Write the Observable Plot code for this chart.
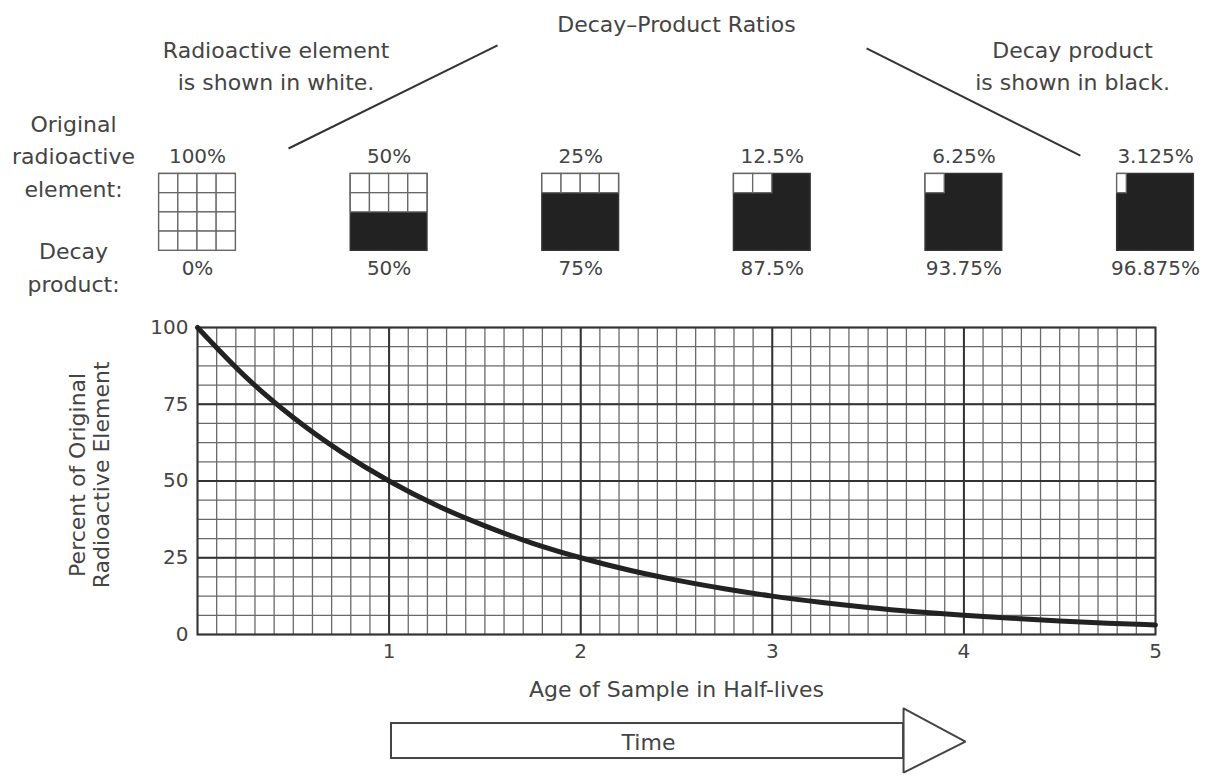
<!DOCTYPE html>
<html>
<head>
<meta charset="utf-8">
<script src="https://cdn.jsdelivr.net/npm/d3@7"></script>
<script src="https://cdn.jsdelivr.net/npm/@observablehq/plot@0.6"></script>
<style>
  html, body { margin: 0; padding: 0; background: #fff; }
  #chart svg { display: block; }
</style>
</head>
<body>
<div id="chart"></div>
<script>
// ---- data ----
const halfLives = [0, 1, 2, 3, 4, 5];
const remainingPct = [100, 50, 25, 12.5, 6.25, 3.125];
const productPct = [0, 50, 75, 87.5, 93.75, 96.875];
const remainingLabels = ["100%", "50%", "25%", "12.5%", "6.25%", "3.125%"];
const productLabels = ["0%", "50%", "75%", "87.5%", "93.75%", "96.875%"];

const curveAge = [0, 0.25, 0.5, 0.75, 1, 1.25, 1.5, 1.75, 2, 2.25, 2.5, 2.75, 3, 3.25, 3.5, 3.75, 4, 4.25, 4.5, 4.75, 5];
const curvePct = [100, 84, 70.7, 59.5, 50, 42, 35.4, 29.7, 25, 21, 17.7, 14.9, 12.5, 10.5, 8.8, 7.4, 6.25, 5.3, 4.4, 3.7, 3.1];

const xTicks = [1, 2, 3, 4, 5];
const yTicks = [0, 25, 50, 75, 100];

const titleText = "Decay\u2013Product Ratios";
const whiteNote = "Radioactive element\nis shown in white.";
const blackNote = "Decay product\nis shown in black.";
const rowLabelTop = "Original\nradioactive\nelement:";
const rowLabelBottom = "Decay\nproduct:";
const xLabel = "Age of Sample in Half-lives";
const yLabel = "Percent of Original\nRadioactive Element";
const arrowLabel = "Time";

// ---- derived tables ----
const curve = curveAge.map((a, i) => ({age: a, pct: curvePct[i]}));

// square glyphs: 4x4 cells, white cells = remaining fraction, filled row by row from top-left
const SQ_HALF = 0.2, CELL_W = 0.1, CELL_H = 6.25, SQ_TOP = 150;
const squares = halfLives.map((h, i) => ({h, rem: remainingPct[i], prod: productPct[i]}));
const whiteCells = [];
squares.forEach(s => {
  const n = s.rem / 100 * 16;
  for (let k = 0; k < 16; k++) {
    const frac = Math.max(0, Math.min(1, n - k));
    if (frac <= 0) continue;
    const row = Math.floor(k / 4), col = k % 4;
    const x1 = s.h - SQ_HALF + col * CELL_W;
    whiteCells.push({x1, x2: x1 + CELL_W * frac, y2: SQ_TOP - row * CELL_H, y1: SQ_TOP - (row + 1) * CELL_H});
  }
});

const minorX = d3.range(0, 51).map(i => i / 10);
const minorY = d3.range(0, 17).map(i => i * 6.25);

const ink = "#444";
const font = 22;

const chart = Plot.plot({
  width: 1205,
  height: 776,
  marginLeft: 197,
  marginRight: 50,
  marginTop: 327,
  marginBottom: 142,
  x: {domain: [0, 5]},
  y: {domain: [0, 100]},
  style: {fontFamily: "'DejaVu Sans', sans-serif", color: ink, background: "#fff", overflow: "visible"},
  marks: [
    // grid
    Plot.ruleX(minorX, {stroke: "#6a6a6a", strokeWidth: 1.3}),
    Plot.ruleY(minorY, {stroke: "#6a6a6a", strokeWidth: 1.3}),
    Plot.ruleX(xTicks.slice(0, 4), {stroke: "#333", strokeWidth: 2}),
    Plot.ruleY([25, 50, 75], {stroke: "#333", strokeWidth: 2}),
    Plot.frame({stroke: "#333", strokeWidth: 2}),
    // decay curve
    Plot.line(curve, {x: "age", y: "pct", stroke: "#222", strokeWidth: 5, curve: "monotone-x"}),
    // axes
    Plot.axisX(xTicks, {tickSize: 0, tickPadding: 9, fontSize: 20, label: null, tickFormat: d => String(d)}),
    Plot.axisY(yTicks, {tickSize: 0, tickPadding: 9, fontSize: 20, label: null, tickFormat: d => String(d)}),
    Plot.text([xLabel], {x: 2.5, y: -18.2, text: d => d, fontSize: font, fill: ink}),
    Plot.text([yLabel], {x: -0.565, y: 52, text: d => d, fontSize: font, fill: ink, rotate: -90, lineHeight: 1.1}),
    // decay-product squares
    Plot.rect(squares, {x1: d => d.h - SQ_HALF, x2: d => d.h + SQ_HALF, y1: SQ_TOP - 4 * CELL_H, y2: SQ_TOP, fill: "#222", stroke: "#333", strokeWidth: 1.5}),
    Plot.rect(whiteCells, {x1: "x1", x2: "x2", y1: "y1", y2: "y2", fill: "#fff", stroke: "#666", strokeWidth: 1.3}),
    Plot.text(squares, {x: "h", y: 155.7, text: (d, i) => remainingLabels[i], fontSize: 20, fill: ink}),
    Plot.text(squares, {x: "h", y: 119.3, text: (d, i) => productLabels[i], fontSize: 20, fill: ink}),
    // header texts
    Plot.text([titleText], {x: 2.5, y: 198.5, text: d => d, fontSize: font, fill: ink}),
    Plot.text([whiteNote], {x: 0.41, y: 185.8, text: d => d, fontSize: font, fill: ink, lineHeight: 1.45}),
    Plot.text([blackNote], {x: 4.567, y: 185.8, text: d => d, fontSize: font, fill: ink, lineHeight: 1.45}),
    Plot.text([rowLabelTop], {x: -0.647, y: 156.6, text: d => d, fontSize: font, fill: ink, lineHeight: 1.48}),
    Plot.text([rowLabelBottom], {x: -0.647, y: 120.4, text: d => d, fontSize: font, fill: ink, lineHeight: 1.48}),
    // leader lines
    Plot.link([{x1: 0.475, y1: 158.3, x2: 1.566, y2: 191.9}, {x1: 3.492, y1: 190.9, x2: 4.608, y2: 156.0}],
      {x1: "x1", y1: "y1", x2: "x2", y2: "y2", stroke: "#333", strokeWidth: 2}),
    // time arrow
    Plot.rect([{x1: 1.0125, x2: 3.685, y1: -40.4, y2: -29.0}], {x1: "x1", x2: "x2", y1: "y1", y2: "y2", fill: "#fff", stroke: "#444", strokeWidth: 2}),
    Plot.line([{x: 3.685, y: -24.1}, {x: 4.008, y: -34.9}, {x: 3.685, y: -45.0}, {x: 3.685, y: -24.1}],
      {x: "x", y: "y", stroke: "#444", strokeWidth: 2, strokeLinejoin: "miter"}),
    Plot.text([arrowLabel], {x: 2.354, y: -35.2, text: d => d, fontSize: font, fill: ink})
  ]
});
document.getElementById("chart").append(chart);
</script>
</body>
</html>
